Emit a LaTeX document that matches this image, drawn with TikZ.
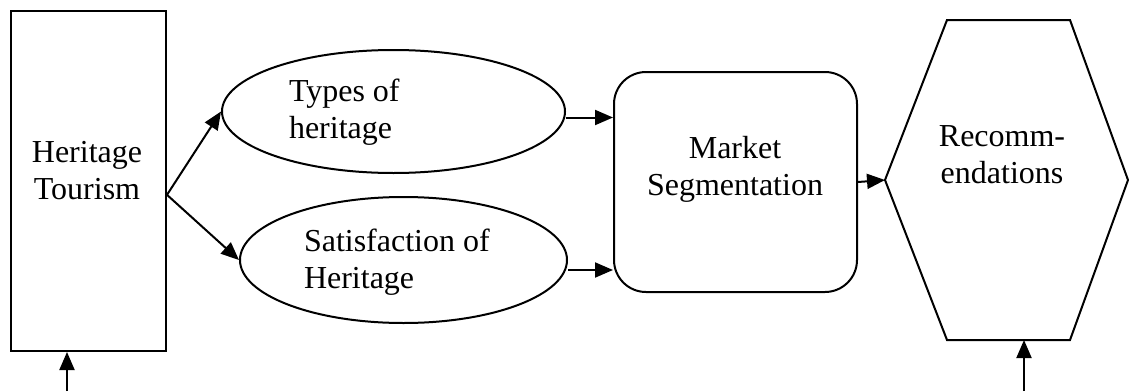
\documentclass[tikz,border=0pt]{standalone}
\usepackage{fontspec}
\setmainfont{Liberation Serif}
\usetikzlibrary{shapes.geometric,arrows.meta}

\begin{document}
\begin{tikzpicture}[x=0.5pt, y=-0.5pt, line width=1pt,
	arr/.style={-{Triangle[length=9pt,width=7.5pt]}},
	txt/.style={font=\fontsize{16pt}{18.5pt}\selectfont,inner sep=0pt},
	oval/.style={shape=ellipse,draw=black,inner sep=0pt}]

	\useasboundingbox (0,0) rectangle (1129,391);

	\node[shape=rectangle,draw=black,minimum width=77.5pt,minimum height=170pt] (tourism) at (88.5, 181) {};
	\node[oval,minimum width=171.5pt,minimum height=61.5pt] (types) at (393.5, 111.5) {};
	\node[oval,minimum width=163.5pt,minimum height=63pt] (satis) at (403.5, 260) {};
	\node[shape=rectangle,draw=black,rounded corners=16pt,minimum width=121.5pt,minimum height=110pt] (market) at (735.5, 182) {};

	\coordinate (hexL) at (885, 180);
	\coordinate (hexR) at (1128, 180);
	\coordinate (hexTL) at (947, 20);
	\coordinate (hexTR) at (1070, 20);
	\coordinate (hexBL) at (947, 340);
	\coordinate (hexBR) at (1070, 340);
	\draw (hexL) -- (hexTL) -- (hexTR) -- (hexR) -- (hexBR) -- (hexBL) -- cycle;

	\node[txt,align=center,anchor=base] (tourismtext) at (87, 199) {Heritage\\Tourism};
	\node[txt,align=left,anchor=base west] (typestext) at (288, 138) {Types of\\heritage};
	\node[txt,align=left,anchor=base west] (satistext) at (303, 288) {Satisfaction of\\Heritage};
	\node[txt,align=center,anchor=base] (markettext) at (735, 195) {Market\\Segmentation};
	\node[txt,align=center,anchor=base] (recomtext) at (1002, 183) {Recomm-\\endations};

	\coordinate (in1) at (67, 391);
	\coordinate (in2) at (1024, 391);

	\path[arr] (tourism.-10) edge (types.west);
	\path[arr] (tourism.-10) edge (satis.west);
	\path[arr] ([yshift=-3pt]types.east) edge ([yshift=-3pt]types.east -| market.west);
	\path[arr] ([yshift=-5pt]satis.east) edge ([yshift=-5pt]satis.east -| market.west);
	\path[arr] (market.east) edge (hexL);
	\path[arr] (in1) edge (in1 |- tourism.south);
	\path[arr] (in2) edge (in2 |- hexBL);

\end{tikzpicture}
\end{document}
